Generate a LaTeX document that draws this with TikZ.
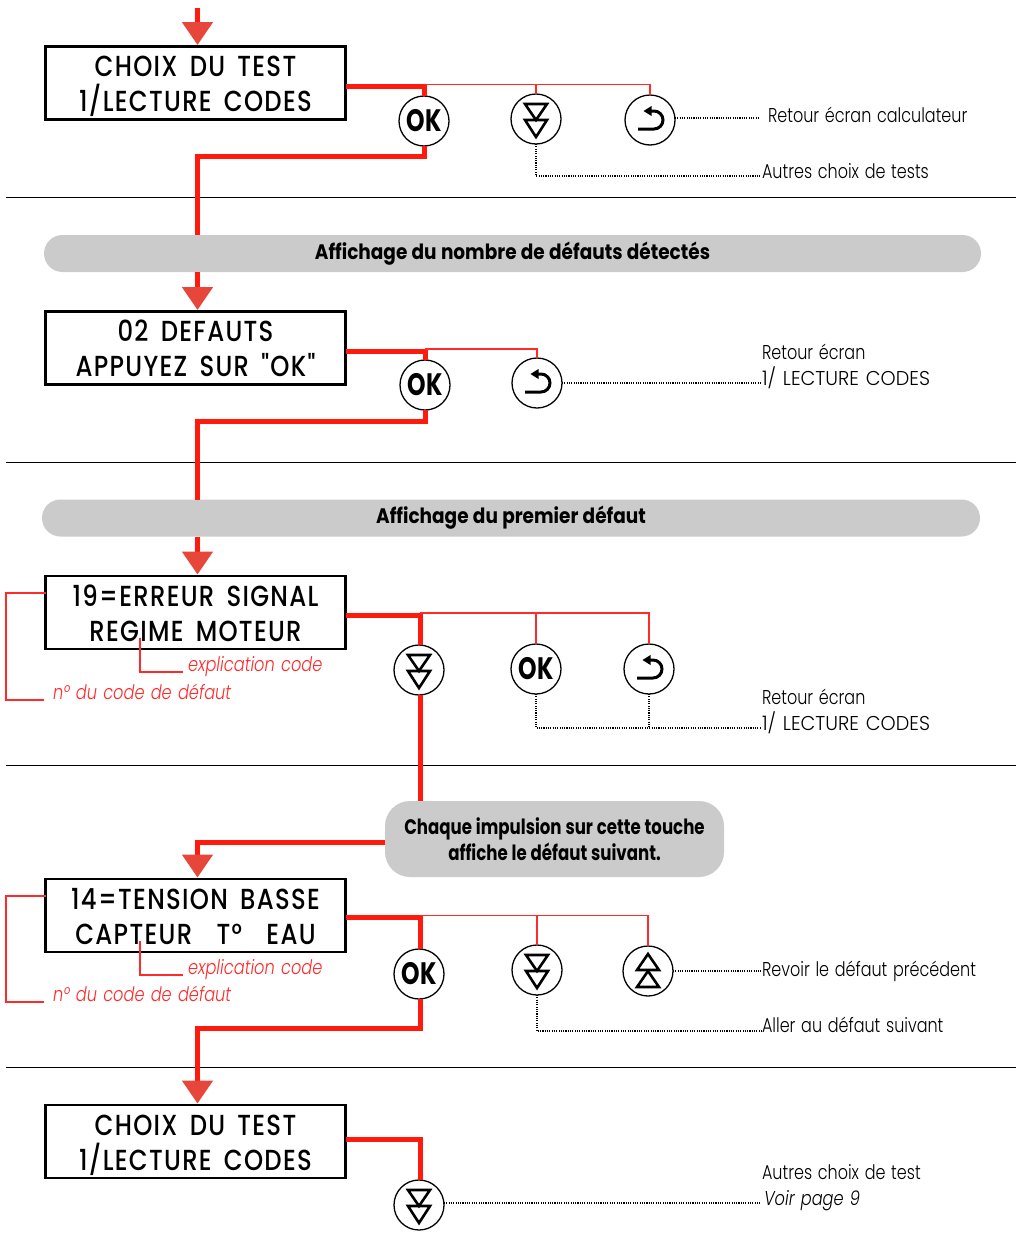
\documentclass[tikz,border=0pt]{standalone}
\usepackage{fontspec}
\usetikzlibrary{arrows.meta,calc}
\newfontfamily\fut[FakeStretch=0.84,LetterSpace=4.5,WordSpace=1.6]{Poppins Medium}
\newfontfamily\futok[FakeStretch=0.76]{Poppins}
\newfontfamily\futb[FakeStretch=0.88,WordSpace=1.1]{Poppins}
\newfontfamily\futbn[FakeStretch=0.79,WordSpace=1.1]{Poppins}
\newfontfamily\futl[FakeStretch=0.80,WordSpace=1.3]{Poppins Light}
\newfontfamily\futc[FakeStretch=0.96,WordSpace=1.3]{Poppins Light}
\newfontfamily\futi[FakeStretch=0.81,WordSpace=1.3]{Poppins Light}
\newcommand\bstrut{\rule[-6.5pt]{0pt}{35pt}}
\definecolor{rthick}{HTML}{FF1A0E}
\definecolor{rhead}{HTML}{E6473A}
\definecolor{rthin}{HTML}{FF2A2A}
\definecolor{pillg}{HTML}{CBCBCB}
\tikzset{
  every node/.style={inner sep=0pt,outer sep=0pt},
  dispbox/.style={draw=black,line width=2.4pt,fill=white,minimum width=300pt,minimum height=73pt,align=center,font=\fut\fontsize{29}{35}\selectfont},
  pill/.style={fill=pillg,rounded corners=18.5pt,minimum height=37pt,font=\futb\bfseries\fontsize{21}{26}\selectfont,align=center},
  btn/.style={circle,draw=black,line width=1.3pt,fill=white,minimum size=50pt,font=\futok\bfseries\fontsize{31}{31}\selectfont},
  btndown/.style={btn,path picture={
    \draw[black,line width=2.6pt,miter limit=3] (path picture bounding box.center) ++(-11pt,15pt) -- ++(22pt,0pt) -- ++(-11pt,-16pt) -- cycle;
    \draw[black,line width=2.6pt,miter limit=3] (path picture bounding box.center) ++(-11pt,-1pt) -- ++(22pt,0pt) -- ++(-11pt,-17pt) -- cycle;}},
  btnup/.style={btn,path picture={
    \draw[black,line width=2.6pt,miter limit=3] (path picture bounding box.center) ++(-11pt,1pt) -- ++(22pt,0pt) -- ++(-11pt,16pt) -- cycle;
    \draw[black,line width=2.6pt,miter limit=3] (path picture bounding box.center) ++(-11pt,-16pt) -- ++(22pt,0pt) -- ++(-11pt,16pt) -- cycle;}},
  btnret/.style={btn,path picture={
    \draw[black,line width=3pt] (path picture bounding box.center) ++(-12pt,-9pt) -- ++(16pt,0pt) arc[start angle=-90,end angle=90,radius=9pt] -- ++(-5pt,0pt);
    \fill[black] (path picture bounding box.center) ++(-6.5pt,9pt) -- ++(8pt,5pt) -- ++(0pt,-10pt) -- cycle;}},
  thickred/.style={draw=rthick,line width=5pt},
  thinred/.style={draw=rthin,line width=1.1pt},
  flow/.style={thickred,-{Triangle[length=23pt,width=30pt,fill=rhead,color=rhead]},shorten >=1.5pt},
  dotline/.style={draw=black,line width=1.1pt,dash pattern=on 1.1pt off 1.2pt},
  sepline/.style={draw=black,line width=1pt},
  lab/.style={anchor=base west,font=\futl\fontsize{20}{26}\selectfont},
  capslab/.style={anchor=base west,font=\futc\fontsize{20}{26}\selectfont},
  itlab/.style={anchor=base west,font=\futi\itshape\fontsize{20}{26}\selectfont},
  redlab/.style={itlab,text=rthin},
}
\begin{document}
\begin{tikzpicture}[x=1pt,y=-1pt]
\useasboundingbox (0,0) rectangle (1016,1253);
\fill[white] (0,0) rectangle (1016,1253);
% separators
\coordinate (s1l) at (6,197.5); \coordinate (s1r) at (1016,197.5);
\coordinate (s2l) at (6,462); \coordinate (s2r) at (1016,462);
\coordinate (s3l) at (6,765); \coordinate (s3r) at (1016,765);
\coordinate (s4l) at (6,1067); \coordinate (s4r) at (1016,1067);
\draw[sepline] (s1l)--(s1r); \draw[sepline] (s2l)--(s2r); \draw[sepline] (s3l)--(s3r); \draw[sepline] (s4l)--(s4r);
% boxes
\node[dispbox] (box1) at (195.5,83) {\bstrut CHOIX DU TEST\\\bstrut 1/LECTURE CODES};
\node[dispbox] (box2) at (195.5,348) {\bstrut 02 DEFAUTS\\\bstrut APPUYEZ SUR "OK"};
\node[dispbox] (box3) at (195.5,612.5) {\bstrut 19=ERREUR SIGNAL\\\bstrut REGIME MOTEUR};
\node[dispbox] (box4) at (195.5,915.5) {\bstrut 14=TENSION BASSE\\\bstrut CAPTEUR~~T°~~EAU};
\node[dispbox] (box5) at (195.5,1141.5) {\bstrut CHOIX DU TEST\\\bstrut 1/LECTURE CODES};
% pills
\node[pill,minimum width=937pt] (pill1) at (512.5,253.5) {Affichage du nombre de défauts détectés};
\node[pill,minimum width=938pt] (pill2) at (511,518) {Affichage du premier défaut};
\node[pill,rounded corners=25pt,minimum width=339pt,minimum height=76pt,font=\futbn\bfseries\fontsize{21}{26}\selectfont] (pill3) at (554.5,839) {Chaque impulsion sur cette touche\\affiche le défaut suivant.};
% buttons
\node[btn] (ok1) at (424,121) {\raisebox{-1.5pt}{OK}};
\node[btndown] (dn1) at (536,119) {};
\node[btnret] (ret1) at (650,120) {};
\node[btn] (ok2) at (425,385) {\raisebox{-1.5pt}{OK}};
\node[btnret] (ret2) at (537,383) {};
\node[btndown] (dn3) at (419,670) {};
\node[btn] (ok3) at (536,669) {\raisebox{-1.5pt}{OK}};
\node[btnret] (ret3) at (649,669) {};
\node[btn] (ok4) at (419,974) {\raisebox{-1.5pt}{OK}};
\node[btndown] (dn4) at (537,970) {};
\node[btnup] (up4) at (648,971) {};
\node[btndown] (dn5) at (419,1205) {};
% labels
\node[lab] (l1) at (768,122) {Retour écran calculateur};
\node[lab] (l2) at (762,178) {Autres choix de tests};
\node[lab] (l3a) at (762,359) {Retour écran};
\node[capslab] (l3b) at (762,385) {1/ LECTURE CODES};
\node[lab] (l4a) at (762,704) {Retour écran};
\node[capslab] (l4b) at (762,730) {1/ LECTURE CODES};
\node[lab] (l5) at (762,976) {Revoir le défaut précédent};
\node[lab] (l6) at (762,1032) {Aller au défaut suivant};
\node[lab] (l7a) at (762,1179) {Autres choix de test};
\node[itlab] (l7b) at (764,1205) {Voir page 9};
\node[redlab] (e3) at (188,671.5) {explication code};
\node[redlab] (n3) at (53,699) {n° du code de défaut};
\node[redlab] (e4) at (188,974.5) {explication code};
\node[redlab] (n4) at (53,1001) {n° du code de défaut};
% flow coordinates
\coordinate (top) at (197.5,8);
\coordinate (a1) at (197.5,156);
\coordinate (a2) at (197.5,421);
\coordinate (a3) at (197.5,842);
\coordinate (a4) at (197.5,1028);
% flow lines
\draw[flow] (top) -- (top |- box1.north);
\draw[thickred] ([yshift=-3pt]box1.east) -| (ok1.north);
\draw[thickred] (ok1.south) |- (a1) -- (a1 |- pill1.north);
\draw[flow] (a1 |- pill1.south) -- (a1 |- box2.north);
\draw[thickred] ([yshift=-3pt]box2.east) -| (ok2.north);
\draw[thickred] (ok2.south) |- (a2) -- (a2 |- pill2.north);
\draw[flow] (a2 |- pill2.south) -- (a2 |- box3.north);
\draw[thickred] ([yshift=-3pt]box3.east) -| ([xshift=1pt]dn3.north);
\draw[thickred] ([xshift=1pt]dn3.south) -- ([xshift=1pt]dn3.south |- pill3.north);
\draw[flow] (pill3.west |- a3) -- (a3) -- (a3 |- box4.north);
\draw[thickred] ([yshift=-2pt]box4.east) -| ([xshift=1pt]ok4.north);
\draw[thickred] ([xshift=1pt]ok4.south) |- (a4);
\draw[flow] ([xshift=1pt]ok4.south |- a4) -- (a4) -- (a4 |- box5.north);
\draw[thickred] ([yshift=2.5pt]box5.east) -| ([xshift=1pt]dn5.north);
% thin red branches
\coordinate (j1) at (425,84.5);
\coordinate (j2) at (425,349);
\coordinate (j3) at (420,613);
\coordinate (j4) at (420,915.5);
\draw[thinred] (j1) -| (ret1.north); \draw[thinred] (j1 -| dn1.north) -- (dn1.north);
\draw[thinred] (j2) -| (ret2.north);
\draw[thinred] (j3) -| (ret3.north); \draw[thinred] (j3 -| ok3.north) -- (ok3.north);
\draw[thinred] (j4) -| (up4.north); \draw[thinred] (j4 -| dn4.north) -- (dn4.north);
% callouts
\coordinate (c3a) at (6,593); \coordinate (c3b) at (44,700); \coordinate (c3c) at (140,638); \coordinate (c3d) at (183,672);
\coordinate (c4a) at (6,896); \coordinate (c4b) at (44,1002); \coordinate (c4c) at (140,941); \coordinate (c4d) at (183,975);
\draw[thinred] (box3.west |- c3a) -- (c3a) -- (c3a |- c3b) -- (c3b);
\draw[thinred] (c3c) |- (c3d);
\draw[thinred] (box4.west |- c4a) -- (c4a) -- (c4a |- c4b) -- (c4b);
\draw[thinred] (c4c) |- (c4d);
% dotted leaders
\coordinate (d1) at (758,118); \coordinate (d2) at (760,176); \coordinate (d3) at (761,383);
\coordinate (d4) at (761,728); \coordinate (d5) at (761,971); \coordinate (d6) at (761,1031); \coordinate (d7) at (761,1203);
\draw[dotline] (ret1.east |- d1) -- (d1);
\draw[dotline] (dn1.south) |- (d2);
\draw[dotline] (ret2.east) -- (d3);
\draw[dotline] (ok3.south) |- (d4);
\draw[dotline] (ret3.south) -- (ret3.south |- d4);
\draw[dotline] (up4.east) -- (d5);
\draw[dotline] (dn4.south) |- (d6);
\draw[dotline] (dn5.east |- d7) -- (d7);
\end{tikzpicture}
\end{document}
